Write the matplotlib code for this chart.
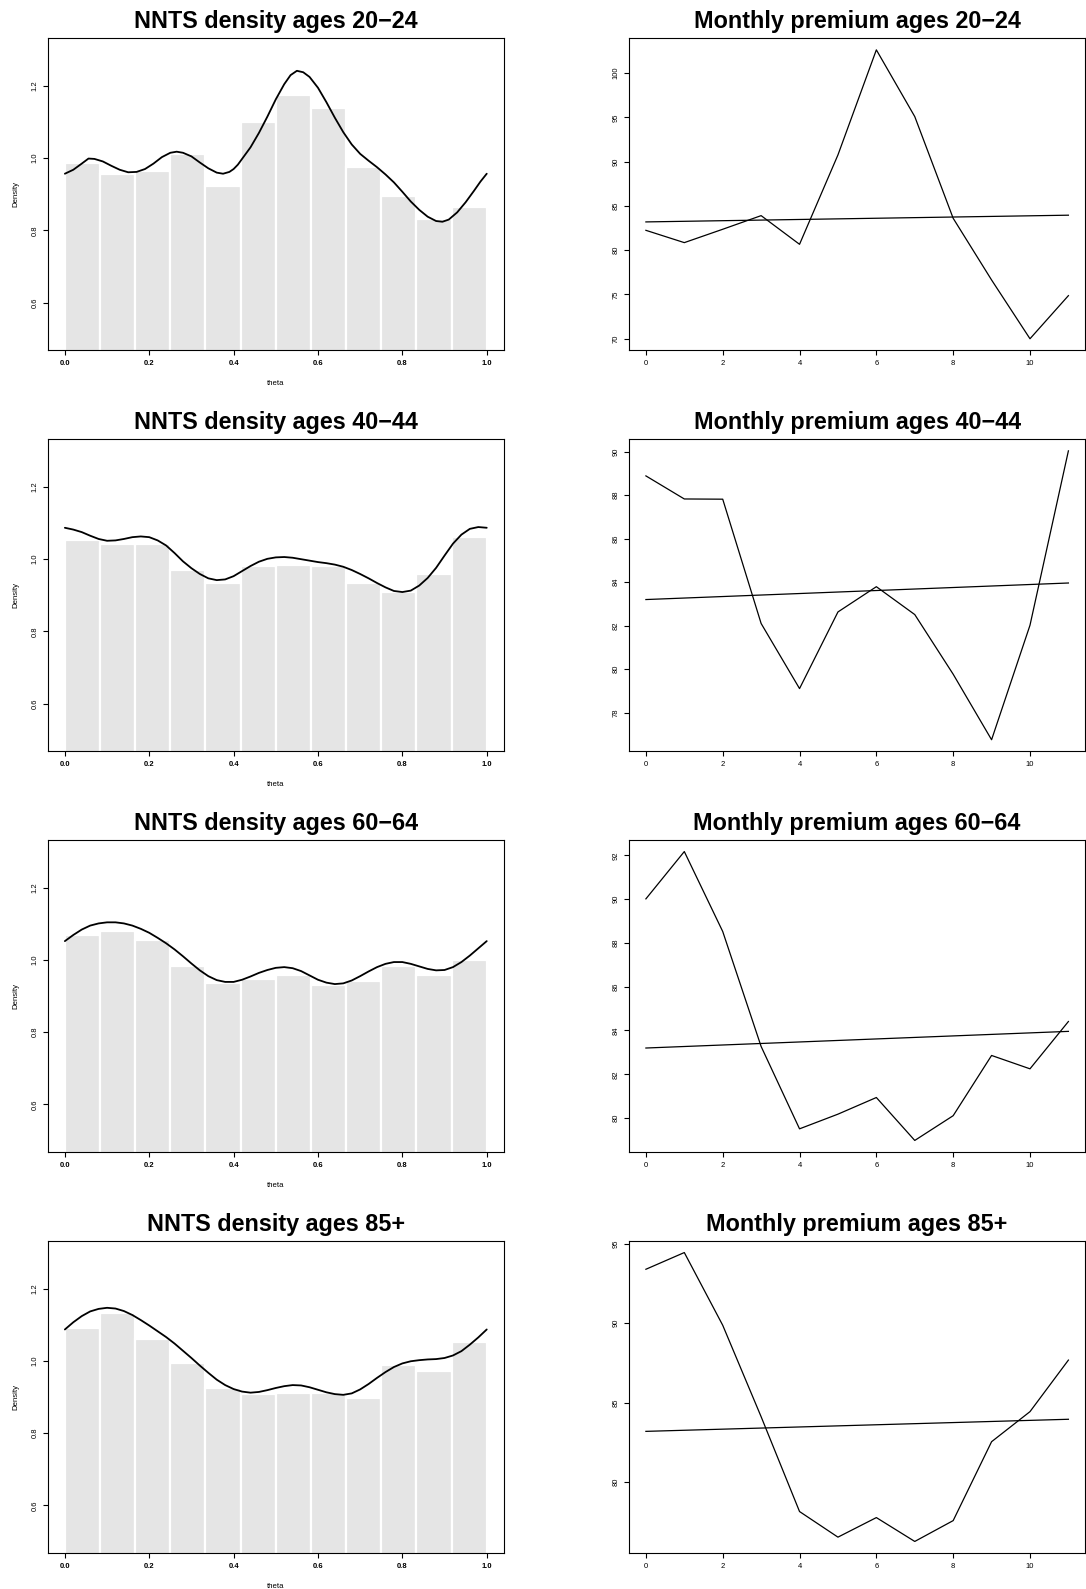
import numpy as np
import matplotlib
matplotlib.use('Agg')
import matplotlib.pyplot as plt

plt.rcParams['font.family'] = ['Liberation Sans', 'DejaVu Sans']

# --- data ---
age_groups = ['20\u221224', '40\u221244', '60\u221264', '85+']

# histogram densities, 12 bins on [0, 1]
hist_20_24 = [0.986, 0.956, 0.965, 1.012, 0.924, 1.100, 1.176, 1.139, 0.976, 0.896, 0.832, 0.865]
hist_40_44 = [1.054, 1.041, 1.041, 0.971, 0.933, 0.980, 0.984, 0.980, 0.933, 0.909, 0.960, 1.061]
hist_60_64 = [1.070, 1.081, 1.056, 0.984, 0.937, 0.948, 0.957, 0.930, 0.942, 0.982, 0.957, 1.000]
hist_85 = [1.090, 1.133, 1.060, 0.995, 0.925, 0.907, 0.910, 0.910, 0.898, 0.990, 0.973, 1.052]

# fitted NNTS density curves (theta, density)
theta_20_24 = [0, 0.02, 0.04, 0.056, 0.07, 0.09, 0.11, 0.13, 0.15, 0.17, 0.19, 0.21, 0.23, 0.25,
               0.265, 0.28, 0.30, 0.32, 0.34, 0.36, 0.375, 0.39, 0.40, 0.41, 0.42, 0.44, 0.46,
               0.48, 0.50, 0.52, 0.535, 0.55, 0.565, 0.58, 0.60, 0.62, 0.64, 0.66, 0.68, 0.70,
               0.72, 0.74, 0.76, 0.78, 0.80, 0.82, 0.84, 0.86, 0.88, 0.895, 0.91, 0.93, 0.95,
               0.97, 0.985, 1.0]
dens_20_24 = [0.957, 0.968, 0.985, 0.999, 0.998, 0.991, 0.979, 0.968, 0.961, 0.962, 0.970, 0.985,
              1.003, 1.015, 1.018, 1.015, 1.005, 0.988, 0.972, 0.960, 0.957, 0.962, 0.970, 0.982,
              0.998, 1.030, 1.070, 1.115, 1.163, 1.205, 1.230, 1.242, 1.238, 1.225, 1.195, 1.155,
              1.112, 1.072, 1.038, 1.012, 0.993, 0.975, 0.955, 0.933, 0.907, 0.880, 0.857, 0.838,
              0.826, 0.824, 0.830, 0.850, 0.878, 0.910, 0.935, 0.957]

# the other three curves are read on a common grid of step 0.02
theta_grid = np.linspace(0, 1, 51)
dens_40_44 = [1.087, 1.082, 1.075, 1.065, 1.056, 1.051, 1.052, 1.056, 1.061, 1.063, 1.061, 1.052,
              1.038, 1.017, 0.994, 0.975, 0.959, 0.947, 0.942, 0.944, 0.953, 0.967, 0.981, 0.993,
              1.001, 1.005, 1.006, 1.004, 1.000, 0.996, 0.992, 0.989, 0.985, 0.979, 0.970, 0.959,
              0.947, 0.934, 0.922, 0.912, 0.909, 0.913, 0.927, 0.948, 0.976, 1.010, 1.043, 1.068,
              1.084, 1.089, 1.087]
dens_60_64 = [1.052, 1.069, 1.084, 1.095, 1.101, 1.104, 1.104, 1.101, 1.095, 1.086, 1.075, 1.061,
              1.046, 1.029, 1.010, 0.990, 0.971, 0.955, 0.944, 0.939, 0.939, 0.945, 0.954, 0.964,
              0.972, 0.978, 0.980, 0.977, 0.969, 0.957, 0.945, 0.937, 0.933, 0.935, 0.943, 0.955,
              0.968, 0.980, 0.989, 0.994, 0.994, 0.989, 0.982, 0.975, 0.971, 0.972, 0.980, 0.994,
              1.012, 1.032, 1.052]
dens_85 = [1.087, 1.107, 1.124, 1.137, 1.144, 1.147, 1.145, 1.138, 1.127, 1.113, 1.098, 1.082,
           1.066, 1.048, 1.028, 1.008, 0.987, 0.967, 0.948, 0.933, 0.922, 0.915, 0.912, 0.914,
           0.919, 0.925, 0.930, 0.933, 0.932, 0.927, 0.920, 0.913, 0.908, 0.906, 0.910, 0.921,
           0.936, 0.953, 0.969, 0.983, 0.993, 0.999, 1.002, 1.004, 1.005, 1.008, 1.015, 1.027,
           1.045, 1.065, 1.087]

# monthly premiums, months 0..11
months = [0, 1, 2, 3, 4, 5, 6, 7, 8, 9, 10, 11]
premium_20_24 = [82.25, 80.86, 82.37, 83.91, 80.67, 90.77, 102.64, 95.10, 83.61, 76.64, 70.0, 74.87]
premium_40_44 = [88.88, 87.82, 87.81, 82.10, 79.11, 82.63, 83.79, 82.51, 79.77, 76.76, 82.02, 90.03]
premium_60_64 = [90.01, 92.17, 88.52, 83.27, 79.51, 80.18, 80.94, 78.98, 80.11, 82.86, 82.25, 84.41]
premium_85 = [93.39, 94.44, 89.87, 84.12, 78.16, 76.55, 77.78, 76.28, 77.59, 82.55, 84.44, 87.68]

# overall trend line (same in every panel)
trend_x = [0, 11]
trend_y = [83.2, 83.96]

hists = [hist_20_24, hist_40_44, hist_60_64, hist_85]
curves = [(theta_20_24, dens_20_24), (theta_grid, dens_40_44),
          (theta_grid, dens_60_64), (theta_grid, dens_85)]
premiums = [premium_20_24, premium_40_44, premium_60_64, premium_85]
premium_yticks = [[70, 75, 80, 85, 90, 95, 100],
                  [78, 80, 82, 84, 86, 88, 90],
                  [80, 82, 84, 86, 88, 90, 92],
                  [80, 85, 90, 95]]

# --- layout (pixels) ---
W, H = 1086, 1589
fig = plt.figure(figsize=(W / 100, H / 100), dpi=100)
fig.patch.set_facecolor('white')

row_tops = [38.3, 439.3, 840.0, 1241.0]
ax_h = 312.0


def make_axes(x0, x1, top):
    return fig.add_axes([x0 / W, 1 - (top + ax_h) / H, (x1 - x0) / W, ax_h / H])


def style(ax):
    for sp in ax.spines.values():
        sp.set_linewidth(0.8)
        sp.set_color('black')
    ax.tick_params(direction='out', length=3.4, width=0.8, labelsize=5.5, pad=3.5)
    ax.tick_params(axis='y', labelrotation=90)
    for lab in ax.get_yticklabels():
        lab.set_verticalalignment('center')


edges = np.linspace(0, 1, 13)

for i, top in enumerate(row_tops):
    # left: histogram + NNTS density
    ax = make_axes(48.0, 503.6, top)
    ax.bar(edges[:-1], hists[i], width=1 / 12, align='edge', color='#e5e5e5',
           edgecolor='white', linewidth=1.6)
    ax.plot(curves[i][0], curves[i][1], color='black', lw=1.3,
            solid_joinstyle='round', solid_capstyle='round')
    ax.set_xlim(-0.04, 1.04)
    ax.set_ylim(0.468, 1.332)
    ax.set_xticks([0, 0.2, 0.4, 0.6, 0.8, 1.0])
    ax.set_xticklabels(['0.0', '0.2', '0.4', '0.6', '0.8', '1.0'], fontweight='bold')
    ax.set_yticks([0.6, 0.8, 1.0, 1.2])
    ax.set_yticklabels(['0.6', '0.8', '1.0', '1.2'])
    style(ax)
    ax.set_title('NNTS density ages ' + age_groups[i], fontsize=16.8,
                 fontweight='bold', pad=7.2)
    ax.text(-0.071, 0.5, 'Density', rotation=90, ha='center', va='center',
            fontsize=5.6, transform=ax.transAxes)
    ax.text(0.5, -0.106, 'theta', ha='center', va='center',
            fontsize=5.6, transform=ax.transAxes)

    # right: monthly premium + trend
    ax2 = make_axes(629.0, 1085.3, top)
    ax2.plot(months, premiums[i], color='black', lw=0.9)
    ax2.plot(trend_x, trend_y, color='black', lw=0.9)
    ax2.margins(x=0.04, y=0.04)
    ax2.set_xticks([0, 2, 4, 6, 8, 10])
    ax2.set_yticks(premium_yticks[i])
    style(ax2)
    ax2.set_title('Monthly premium ages ' + age_groups[i], fontsize=16.8,
                  fontweight='bold', pad=7.2)

fig.savefig('out.png', dpi=100, facecolor='white')
